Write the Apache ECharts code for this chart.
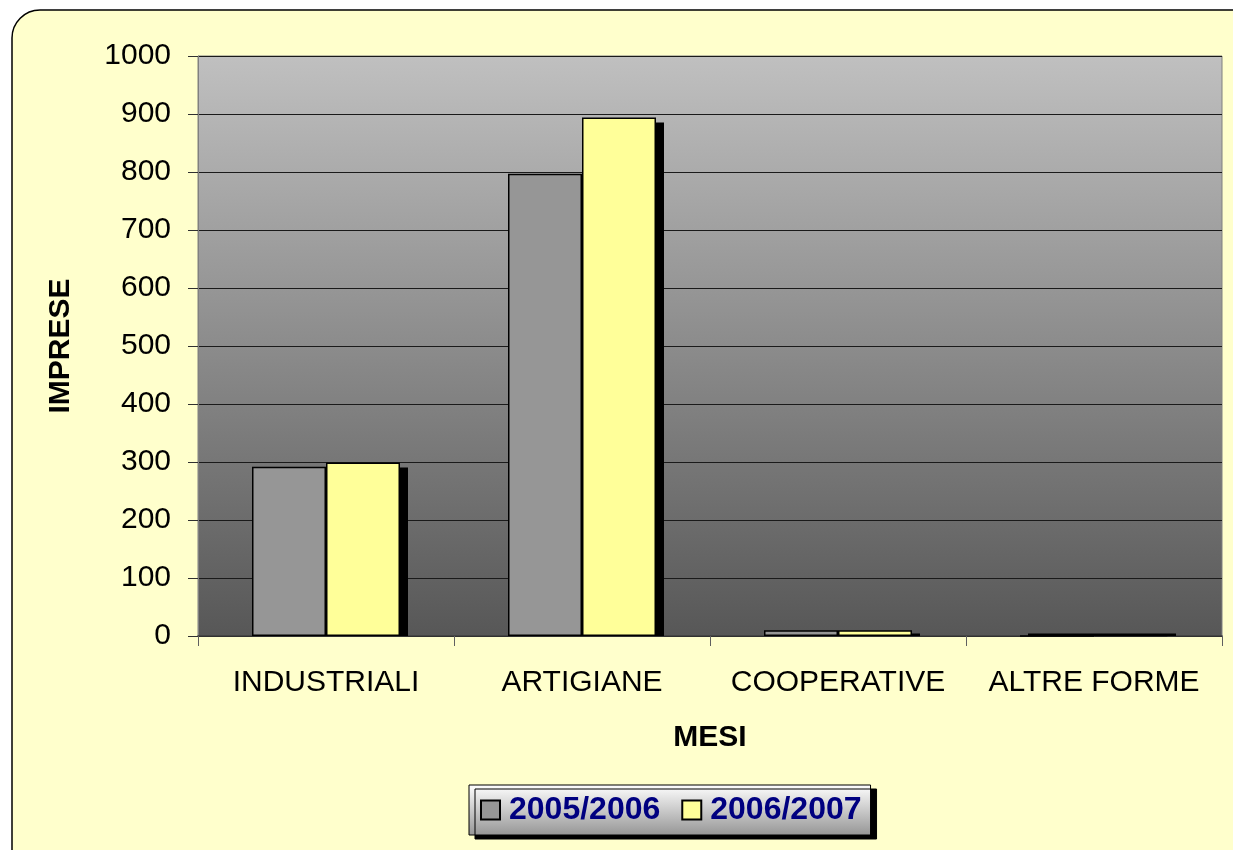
<!DOCTYPE html>
<html>
<head>
<meta charset="utf-8">
<script src="https://cdn.jsdelivr.net/npm/echarts@6/dist/echarts.min.js"></script>
<style>
html,body{margin:0;padding:0;background:#ffffff;}
#chart{width:1233px;height:850px;}
</style>
</head>
<body>
<div id="chart"></div>
<script>
const categories = ['INDUSTRIALI', 'ARTIGIANE', 'COOPERATIVE', 'ALTRE FORME'];
const seriesNames = ['2005/2006', '2006/2007'];
const values2005 = [292, 797, 10, 0];
const values2006 = [299, 894, 10, 2];
const yTicks = { min: 0, max: 1000, interval: 100 };

const BAR_W = 74;
const FONT = 'Liberation Sans, Arial, sans-serif';

function shadowSeries(data, side) {
  return {
    type: 'custom',
    z: 1,
    silent: true,
    data: data.map((v, i) => [i, v]),
    renderItem: function (params, api) {
      const top = api.coord([api.value(0), api.value(1)]);
      const base = api.coord([api.value(0), 0]);
      const x0 = top[0] + (side === 0 ? -BAR_W : 0) + 8;
      let y0 = top[1] + 5;
      if (y0 > base[1] - 2.5) y0 = base[1] - 2.5;
      return {
        type: 'rect',
        shape: { x: x0, y: y0, width: BAR_W, height: base[1] - y0 },
        style: { fill: '#000000' }
      };
    }
  };
}

const chart = echarts.init(document.getElementById('chart'), null, { renderer: 'canvas' });
chart.setOption({
  animation: false,
  backgroundColor: '#ffffff',
  graphic: [{
    type: 'rect',
    z: -10,
    shape: { x: 12, y: 10, width: 1250, height: 870, r: 28 },
    style: { fill: '#FFFFCC', stroke: '#000000', lineWidth: 1.5 }
  }],
  grid: {
    left: 198, right: 11, top: 56, bottom: 214,
    show: true,
    borderColor: '#808080',
    borderWidth: 1,
    backgroundColor: new echarts.graphic.LinearGradient(0, 0, 0, 1, [
      { offset: 0, color: '#C0C0C0' },
      { offset: 1, color: '#575757' }
    ])
  },
  legend: {
    data: seriesNames,
    left: 469, top: 785,
    orient: 'horizontal',
    icon: 'rect',
    itemWidth: 19, itemHeight: 19,
    itemGap: 21,
    padding: [9, 9, 9, 11],
    borderColor: '#000000',
    borderWidth: 1,
    backgroundColor: new echarts.graphic.LinearGradient(0, 0, 0, 1, [
      { offset: 0, color: '#FFFFFF' },
      { offset: 1, color: '#959595' }
    ]),
    shadowColor: '#000000', shadowBlur: 0, shadowOffsetX: 6, shadowOffsetY: 4,
    textStyle: { color: '#000080', fontWeight: 'bold', fontSize: 32, fontFamily: FONT, padding: [0, 0, 0, 4] }
  },
  xAxis: {
    type: 'category',
    data: categories,
    name: 'MESI',
    nameLocation: 'middle',
    nameGap: 87,
    nameTextStyle: { color: '#000', fontWeight: 'bold', fontSize: 30, fontFamily: FONT },
    axisLine: { show: true, lineStyle: { color: '#3a3a3a', width: 1.5 } },
    axisTick: { show: true, length: 10, inside: false, alignWithLabel: false, interval: 0, lineStyle: { color: '#606060' } },
    axisLabel: { color: '#000', fontSize: 30, fontFamily: FONT, margin: 32, interval: 0 },
    splitLine: { show: false }
  },
  yAxis: {
    type: 'value',
    min: yTicks.min, max: yTicks.max, interval: yTicks.interval,
    name: 'IMPRESE',
    nameLocation: 'middle',
    nameGap: 122,
    nameRotate: 90,
    nameTextStyle: { color: '#000', fontWeight: 'bold', fontSize: 30, fontFamily: FONT },
    axisLine: { show: true, lineStyle: { color: '#808080', width: 1 } },
    axisTick: { show: true, length: 10, inside: false, lineStyle: { color: '#303030' } },
    axisLabel: { color: '#000', fontSize: 30, fontFamily: FONT, margin: 27, formatter: function (v) { return String(v); } },
    splitLine: { show: true, lineStyle: { color: '#1a1a1a', width: 1 } }
  },
  series: [
    shadowSeries(values2005, 0),
    shadowSeries(values2006, 1),
    {
      name: seriesNames[0],
      type: 'bar',
      z: 3,
      data: values2005,
      barWidth: BAR_W,
      barGap: '0%',
      itemStyle: { color: '#969696', borderColor: '#000000', borderWidth: 1.5 }
    },
    {
      name: seriesNames[1],
      type: 'bar',
      z: 3,
      data: values2006,
      barWidth: BAR_W,
      barGap: '0%',
      itemStyle: { color: '#FFFF99', borderColor: '#000000', borderWidth: 1.5 }
    }
  ]
});
</script>
</body>
</html>
